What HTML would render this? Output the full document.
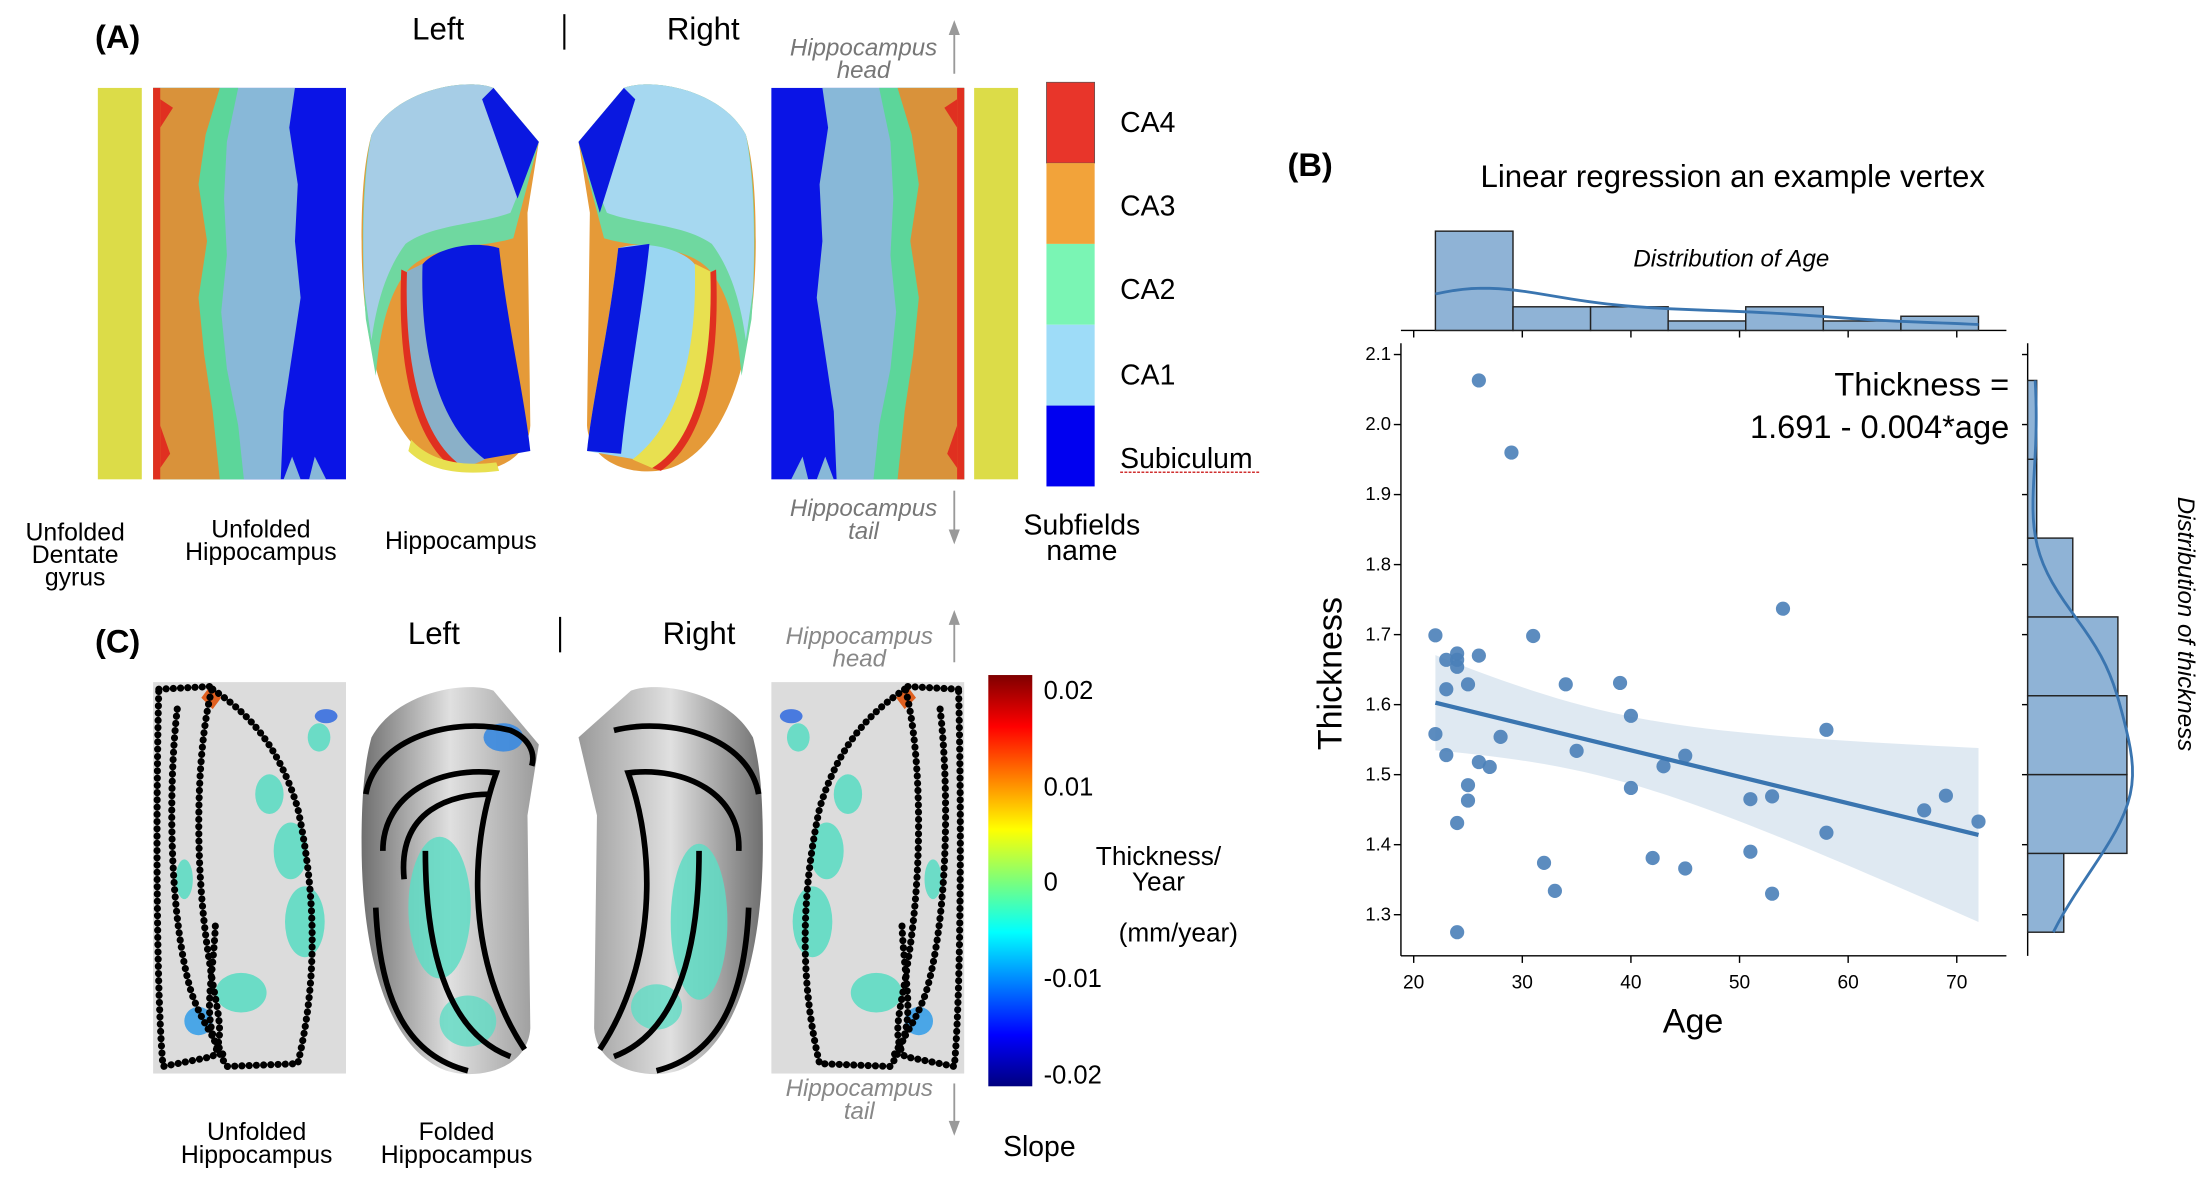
<!DOCTYPE html>
<html><head><meta charset="utf-8"><style>
html,body{margin:0;padding:0;background:#fff;}
svg{display:block;font-family:"Liberation Sans",sans-serif;}
</style></head><body>
<svg id="fig" width="2212" height="1204" viewBox="0 0 1560 849" preserveAspectRatio="none" xmlns="http://www.w3.org/2000/svg">
<defs>
<linearGradient id="jet" x1="0" y1="1" x2="0" y2="0">
<stop offset="0" stop-color="#00007f"/><stop offset="0.125" stop-color="#0000ff"/><stop offset="0.375" stop-color="#00ffff"/><stop offset="0.5" stop-color="#7dff7a"/><stop offset="0.625" stop-color="#ffff00"/><stop offset="0.875" stop-color="#ff0000"/><stop offset="1" stop-color="#7f0000"/>
</linearGradient>
<linearGradient id="gshade" x1="0" y1="0" x2="1" y2="0">
<stop offset="0" stop-color="#6f6f6f"/><stop offset="0.5" stop-color="#e0e0e0"/><stop offset="1" stop-color="#9a9a9a"/>
</linearGradient>
</defs>
<rect width="1560" height="849" fill="#fff"/>

<!-- ===== Panel A ===== -->
<g>
<text x="67" y="34" font-size="23" font-weight="bold">(A)</text>
<text x="309" y="28" font-size="22" text-anchor="middle">Left</text>
<line x1="398" y1="10" x2="398" y2="35" stroke="#000" stroke-width="1.5"/>
<text x="496" y="28" font-size="22" text-anchor="middle">Right</text>

<rect x="69" y="62" width="31" height="276" fill="#dcdc48"/>
<g id="unfoldA">
<rect x="108" y="62" width="136" height="276" fill="#0a14e6"/>
<path d="M108,62 L208,62 L204,90 L210,130 L208,170 L212,210 L206,250 L200,290 L198,338 L108,338 Z" fill="#88b8d8"/>
<path d="M108,62 L168,62 L160,100 L158,140 L160,180 L156,220 L160,260 L168,300 L172,338 L108,338 Z" fill="#5cd69a"/>
<path d="M108,62 L155,62 L145,95 L140,130 L146,170 L140,210 L144,250 L150,290 L155,338 L108,338 Z" fill="#d9923a"/>
<rect x="108" y="62" width="5" height="276" fill="#e03020"/>
<path d="M113,70 L122,76 L113,90 Z M113,300 L120,320 L113,330 Z" fill="#e03020"/>
<path d="M200,338 L206,322 L212,338 Z M218,338 L222,322 L230,338 Z" fill="#88b8d8"/>
</g>
<use href="#unfoldA" transform="translate(788,0) scale(-1,1)"/>
<rect x="687" y="62" width="31" height="276" fill="#dcdc48"/>

<g id="hippA">
<path d="M262,95 C280,62 330,55 348,62 L380,100 L372,150 L374,300 C372,332 330,338 310,328 C270,308 255,240 255,170 C255,130 258,110 262,95 Z" fill="#e59a38"/>
<path d="M262,95 C280,62 330,55 348,62 L380,100 L362,168 C340,175 305,172 288,190 C275,205 268,230 265,265 L258,225 C254,170 256,120 262,95 Z" fill="#6fd8a0"/>
<path d="M262,95 C280,62 330,55 348,62 L380,100 L360,150 C340,158 305,158 286,172 C274,188 266,210 262,240 L257,205 C255,160 257,120 262,95 Z" fill="#a6cde6"/>
<path d="M348,62 L380,100 L365,140 L340,70 Z" fill="#0a18e0"/>
<path d="M296,190 C300,178 330,168 352,175 C358,230 370,280 374,318 L328,326 C306,300 296,260 296,190 Z" fill="#0818e0"/>
<path d="M286,192 L298,186 C296,250 310,300 342,324 L328,330 C296,312 284,260 286,192 Z" fill="#8ab0c8"/>
<path d="M283,190 L287,192 C285,260 298,312 328,330 L322,332 C292,312 280,260 283,190 Z" fill="#e03020"/>
<path d="M290,310 C300,322 320,330 350,326 L352,332 C320,336 300,330 288,318 Z" fill="#e8e050"/>
</g>
<g transform="translate(788,0) scale(-1,1)">
<path d="M262,95 C280,62 330,55 348,62 L380,100 L372,150 L374,300 C372,332 330,338 310,328 C270,308 255,240 255,170 C255,130 258,110 262,95 Z" fill="#e59a38"/>
<path d="M262,95 C280,62 330,55 348,62 L380,100 L362,168 C340,175 305,172 288,190 C275,205 268,230 265,265 L258,225 C254,170 256,120 262,95 Z" fill="#6fd8a0"/>
<path d="M262,95 C280,62 330,55 348,62 L380,100 L360,150 C340,158 305,158 286,172 C274,188 266,210 262,240 L257,205 C255,160 257,120 262,95 Z" fill="#a6d8f0"/>
<path d="M348,62 L380,100 L365,150 L340,70 Z" fill="#0a18e0"/>
<path d="M296,190 C300,178 330,168 352,175 C358,230 370,280 374,318 L328,326 C306,300 296,260 296,190 Z" fill="#9ad6f2"/>
<path d="M330,172 L352,175 C358,230 370,280 374,318 L350,320 C345,270 335,220 330,172 Z" fill="#0818e0"/>
<path d="M286,192 L298,186 C296,250 310,300 342,324 L328,330 C296,312 284,260 286,192 Z" fill="#e8e050"/>
<path d="M283,190 L287,192 C285,260 298,312 328,330 L322,332 C292,312 280,260 283,190 Z" fill="#e03020"/>
</g>

<g>
<rect x="738" y="58" width="34" height="57" fill="#e8352a" stroke="#555" stroke-width="0.5"/>
<rect x="738" y="115" width="34" height="57" fill="#f2a33a"/>
<rect x="738" y="172" width="34" height="57" fill="#7af5b4"/>
<rect x="738" y="229" width="34" height="57" fill="#9edcf8"/>
<rect x="738" y="286" width="34" height="57" fill="#0000f0"/>
<text x="790" y="93" font-size="20">CA4</text>
<text x="790" y="152" font-size="20">CA3</text>
<text x="790" y="211" font-size="20">CA2</text>
<text x="790" y="271" font-size="20">CA1</text>
<text x="790" y="330" font-size="20">Subiculum</text>
<line x1="790" y1="333" x2="888" y2="333" stroke="#d03030" stroke-width="1" stroke-dasharray="2 1"/>
</g>

<g fill="#777" font-style="italic" font-size="17" text-anchor="middle">
<text x="609" y="39">Hippocampus</text><text x="609" y="55">head</text>
<text x="609" y="364">Hippocampus</text><text x="609" y="380">tail</text>
</g>
<g stroke="#999" stroke-width="1.3" fill="#999">
<line x1="673" y1="22" x2="673" y2="52"/><path d="M670,24 L673,16 L676,24 Z"/>
<line x1="673" y1="346" x2="673" y2="376"/><path d="M670,374 L673,382 L676,374 Z"/>
</g>
<g font-size="17.5" text-anchor="middle">
<text x="53" y="381">Unfolded</text><text x="53" y="397">Dentate</text><text x="53" y="413">gyrus</text>
<text x="184" y="379">Unfolded</text><text x="184" y="395">Hippocampus</text>
<text x="325" y="387">Hippocampus</text>
<text x="763" y="377" font-size="20">Subfields</text><text x="763" y="395" font-size="20">name</text>
</g>
</g>

<!-- ===== Panel C ===== -->
<g>
<text x="67" y="460" font-size="23" font-weight="bold">(C)</text>
<text x="306" y="454" font-size="22" text-anchor="middle">Left</text>
<line x1="395" y1="435" x2="395" y2="460" stroke="#000" stroke-width="1.5"/>
<text x="493" y="454" font-size="22" text-anchor="middle">Right</text>

<g id="unfoldC">
<rect x="108" y="481" width="136" height="276" fill="#dcdcdc"/>
<g fill="#5fdcc4" opacity="0.9">
<ellipse cx="190" cy="560" rx="10" ry="14"/><ellipse cx="205" cy="600" rx="12" ry="20"/><ellipse cx="215" cy="650" rx="14" ry="25"/>
<ellipse cx="170" cy="700" rx="18" ry="14"/><ellipse cx="225" cy="520" rx="8" ry="10"/><ellipse cx="130" cy="620" rx="6" ry="14"/>
<ellipse cx="140" cy="720" rx="10" ry="10" fill="#3aa0e8"/><ellipse cx="230" cy="505" rx="8" ry="5" fill="#3a70e0"/>
</g>
<path d="M148,484 L156,492 L150,500 L142,492 Z" fill="#e06020"/>
<g fill="none" stroke="#000" stroke-width="5" stroke-linecap="round" stroke-dasharray="0.1 5">
<path d="M112,486 L150,484 C140,520 135,600 148,680 C152,710 160,730 150,745 L115,752 C110,700 110,560 112,486 Z"/>
<path d="M150,486 C170,500 195,520 210,570 C225,640 222,700 210,750 L160,752 C140,720 150,700 152,650"/>
<path d="M125,500 C118,560 120,650 135,700 C142,720 150,730 158,745"/>
</g>
</g>
<use href="#unfoldC" transform="translate(788,0) scale(-1,1)"/>

<g>
<path d="M262,520 C280,487 330,480 348,487 L380,525 L372,575 L374,725 C372,757 330,763 310,753 C270,733 255,665 255,595 C255,555 258,535 262,520 Z" fill="url(#gshade)"/>
<ellipse cx="310" cy="640" rx="22" ry="50" fill="#5fdcc4" opacity="0.85"/>
<ellipse cx="330" cy="720" rx="20" ry="18" fill="#5fdcc4" opacity="0.8"/>
<ellipse cx="355" cy="520" rx="14" ry="10" fill="#3a8ae0" opacity="0.9"/>
<g fill="none" stroke="#000" stroke-width="4">
<path d="M258,560 C265,520 320,505 360,515 C372,520 378,530 375,540"/>
<path d="M270,600 C270,560 310,540 350,545 C330,600 330,680 370,740"/>
<path d="M285,620 C280,570 320,560 345,560"/>
<path d="M300,600 C300,680 320,730 360,745"/>
<path d="M265,640 C268,710 290,745 330,755"/>
</g>
</g>
<g transform="translate(793,0) scale(-1,1)">
<path d="M262,520 C280,487 330,480 348,487 L385,520 L372,575 L374,725 C372,757 330,763 310,753 C270,733 255,665 255,595 C255,555 258,535 262,520 Z" fill="url(#gshade)"/>
<ellipse cx="300" cy="650" rx="20" ry="55" fill="#5fdcc4" opacity="0.85"/>
<ellipse cx="330" cy="710" rx="18" ry="16" fill="#5fdcc4" opacity="0.8"/>
<g fill="none" stroke="#000" stroke-width="4">
<path d="M258,560 C265,520 320,505 360,515"/>
<path d="M272,600 C270,560 310,540 350,545 C330,600 330,680 370,740"/>
<path d="M300,600 C300,680 320,730 360,745"/>
<path d="M265,640 C268,710 290,745 330,755"/>
</g>
</g>

<rect x="697" y="476" width="31" height="290" fill="url(#jet)"/>
<g font-size="18">
<text x="736" y="493">0.02</text><text x="736" y="561">0.01</text><text x="736" y="628">0</text><text x="736" y="696">-0.01</text><text x="736" y="764">-0.02</text>
</g>
<g font-size="18.5" text-anchor="middle">
<text x="817" y="610">Thickness/</text><text x="817" y="628">Year</text><text x="831" y="664">(mm/year)</text>
<text x="733" y="815" font-size="20">Slope</text>
</g>
<g fill="#888" font-style="italic" font-size="17" text-anchor="middle">
<text x="606" y="454">Hippocampus</text><text x="606" y="470">head</text>
<text x="606" y="773">Hippocampus</text><text x="606" y="789">tail</text>
</g>
<g stroke="#999" stroke-width="1.3" fill="#999">
<line x1="673" y1="438" x2="673" y2="467"/><path d="M670,440 L673,432 L676,440 Z"/>
<line x1="673" y1="764" x2="673" y2="793"/><path d="M670,791 L673,799 L676,791 Z"/>
</g>
<g font-size="17.5" text-anchor="middle">
<text x="181" y="804">Unfolded</text><text x="181" y="820">Hippocampus</text>
<text x="322" y="804">Folded</text><text x="322" y="820">Hippocampus</text>
</g>
</g>

<!-- ===== Panel B ===== -->
<g id="panelB">
<text x="908" y="124" font-size="23" font-weight="bold">(B)</text>
<text x="1222" y="132" font-size="22" text-anchor="middle">Linear regression an example vertex</text>
<text x="1221" y="188" font-size="17" font-style="italic" text-anchor="middle">Distribution of Age</text>
<text transform="translate(1536,440) rotate(90)" font-size="17" font-style="italic" text-anchor="middle">Distribution of thickness</text>
<text transform="translate(946,475) rotate(-90)" font-size="24" text-anchor="middle">Thickness</text>
<text x="1194" y="728" font-size="24" text-anchor="middle">Age</text>
<text x="1417" y="279" font-size="23" text-anchor="end">Thickness =</text>
<text x="1417" y="309" font-size="23" text-anchor="end">1.691 - 0.004*age</text>
<g id="plot"></g>
</g>
</svg>
<script>
const ages = [26,29,22,24,23,24,24,26,31,23,25,34,39,40,22,28,23,35,26,27,25,25,24,40,43,45,54,58,51,53,58,67,69,72,32,33,42,45,51,53,24];
const thickness = [2.063,1.960,1.699,1.673,1.664,1.664,1.654,1.670,1.698,1.622,1.629,1.629,1.631,1.584,1.558,1.554,1.528,1.534,1.518,1.511,1.485,1.463,1.431,1.481,1.512,1.527,1.737,1.564,1.465,1.469,1.417,1.449,1.470,1.433,1.374,1.334,1.381,1.366,1.390,1.330,1.275];
const ageBinCounts = [21,5,5,2,5,2,3];
const thickBinCounts = [4,11,11,10,5,1,1];
const xTickLabels = [20,30,40,50,60,70];
const yTickLabels = [1.3,1.4,1.5,1.6,1.7,1.8,1.9,2.0,2.1];

const NS = "http://www.w3.org/2000/svg";
const plot = document.getElementById('plot');
function xs(v){return 997 + (v-20)*7.66;}
function ys(v){return 250 + (2.1-v)*493.75;}
function mk(tag, attrs, parent){const e=document.createElementNS(NS,tag);for(const k in attrs)e.setAttribute(k,attrs[k]);(parent||plot).appendChild(e);return e;}

let e;
e = mk('line',{x1:988,y1:242,x2:988,y2:674,stroke:'#000','stroke-width':1});


e = mk('line',{x1:988,y1:674,x2:1415,y2:674,stroke:'#000','stroke-width':1});


xTickLabels.forEach(t=>{
  mk('line',{x1:xs(t),y1:674,x2:xs(t),y2:679,stroke:'#000'});
  mk('line',{x1:xs(t),y1:233,x2:xs(t),y2:238,stroke:'#000'});
  e = mk('text',{x:xs(t),y:697,'font-size':13.5,'text-anchor':'middle'});
  e.textContent = t;
  
  
});
yTickLabels.forEach(t=>{
  mk('line',{x1:983,y1:ys(t),x2:988,y2:ys(t),stroke:'#000'});
  mk('line',{x1:1426,y1:ys(t),x2:1430,y2:ys(t),stroke:'#000'});
  e = mk('text',{x:981,y:ys(t)+4,'font-size':13,'text-anchor':'end'});
  e.textContent = t.toFixed(1);
  
  
});

const n = ages.length;
const mx = ages.reduce((a,b)=>a+b,0)/n, my = thickness.reduce((a,b)=>a+b,0)/n;
let sxx=0,sxy=0; for(let i=0;i<n;i++){sxx+=(ages[i]-mx)**2;sxy+=(ages[i]-mx)*(thickness[i]-my);}
const slope = sxy/sxx, icpt = my - slope*mx;
let sse=0; for(let i=0;i<n;i++){sse+=(thickness[i]-icpt-slope*ages[i])**2;}
const s = Math.sqrt(sse/(n-2));
const amin = Math.min(...ages), amax = Math.max(...ages);
let up=[],lo=[];
for(let k=0;k<=40;k++){const a=amin+(amax-amin)*k/40;const f=icpt+slope*a;const h=2.02*s*Math.sqrt(1/n+(a-mx)**2/sxx);up.push(xs(a)+','+ys(f+h));lo.unshift(xs(a)+','+ys(f-h));}
e = mk('polygon',{points:up.concat(lo).join(' '),fill:'#3a75b0','fill-opacity':0.16});


for(let i=0;i<n;i++){
  e = mk('circle',{cx:xs(ages[i]),cy:ys(thickness[i]),r:5,fill:'#4a80b8','fill-opacity':0.9});
  
  
}
e = mk('line',{x1:xs(amin),y1:ys(icpt+slope*amin),x2:xs(amax),y2:ys(icpt+slope*amax),stroke:'#3a75b0','stroke-width':3});



mk('line',{x1:988,y1:233,x2:1415,y2:233,stroke:'#000'});
const abw = (amax-amin)/ageBinCounts.length, topScale = 70/21;
ageBinCounts.forEach((c,i)=>{
  e = mk('rect',{x:xs(amin+i*abw),y:233-c*topScale,width:xs(amin+(i+1)*abw)-xs(amin+i*abw),height:c*topScale,fill:'#8fb3d6',stroke:'#222','stroke-width':1});
  
  
});
mk('line',{x1:1430,y1:242,x2:1430,y2:674,stroke:'#000'});
const tmin = Math.min(...thickness), tmax = Math.max(...thickness);
const tbw = (tmax-tmin)/thickBinCounts.length, rScale = 70/11;
thickBinCounts.forEach((c,i)=>{
  const y1=ys(tmin+(i+1)*tbw), y0=ys(tmin+i*tbw);
  e = mk('rect',{x:1430,y:y1,width:c*rScale,height:y0-y1,fill:'#8fb3d6',stroke:'#222','stroke-width':1});
  
  
});
function kde(arr,x,bw){let s=0;for(const v of arr)s+=Math.exp(-0.5*((x-v)/bw)**2);return s/(arr.length*bw*Math.sqrt(2*Math.PI));}
function sd(arr){const m=arr.reduce((a,b)=>a+b,0)/arr.length;return Math.sqrt(arr.reduce((a,b)=>a+(b-m)**2,0)/(arr.length-1));}
const fac = Math.pow(n,-0.2);
let pa=[]; const bwa=sd(ages)*fac;
for(let k=0;k<=60;k++){const a=amin+(amax-amin)*k/60;pa.push((k?'L':'M')+xs(a)+','+(233-kde(ages,a,bwa)*n*abw*topScale));}
e = mk('path',{d:pa.join(' '),fill:'none',stroke:'#3a75b0','stroke-width':2});


let pt=[]; const bwt=sd(thickness)*fac;
for(let k=0;k<=60;k++){const t=tmin+(tmax-tmin)*k/60;pt.push((k?'L':'M')+(1430+kde(thickness,t,bwt)*n*tbw*rScale)+','+ys(t));}
e = mk('path',{d:pt.join(' '),fill:'none',stroke:'#3a75b0','stroke-width':2});


</script>
</body></html>
